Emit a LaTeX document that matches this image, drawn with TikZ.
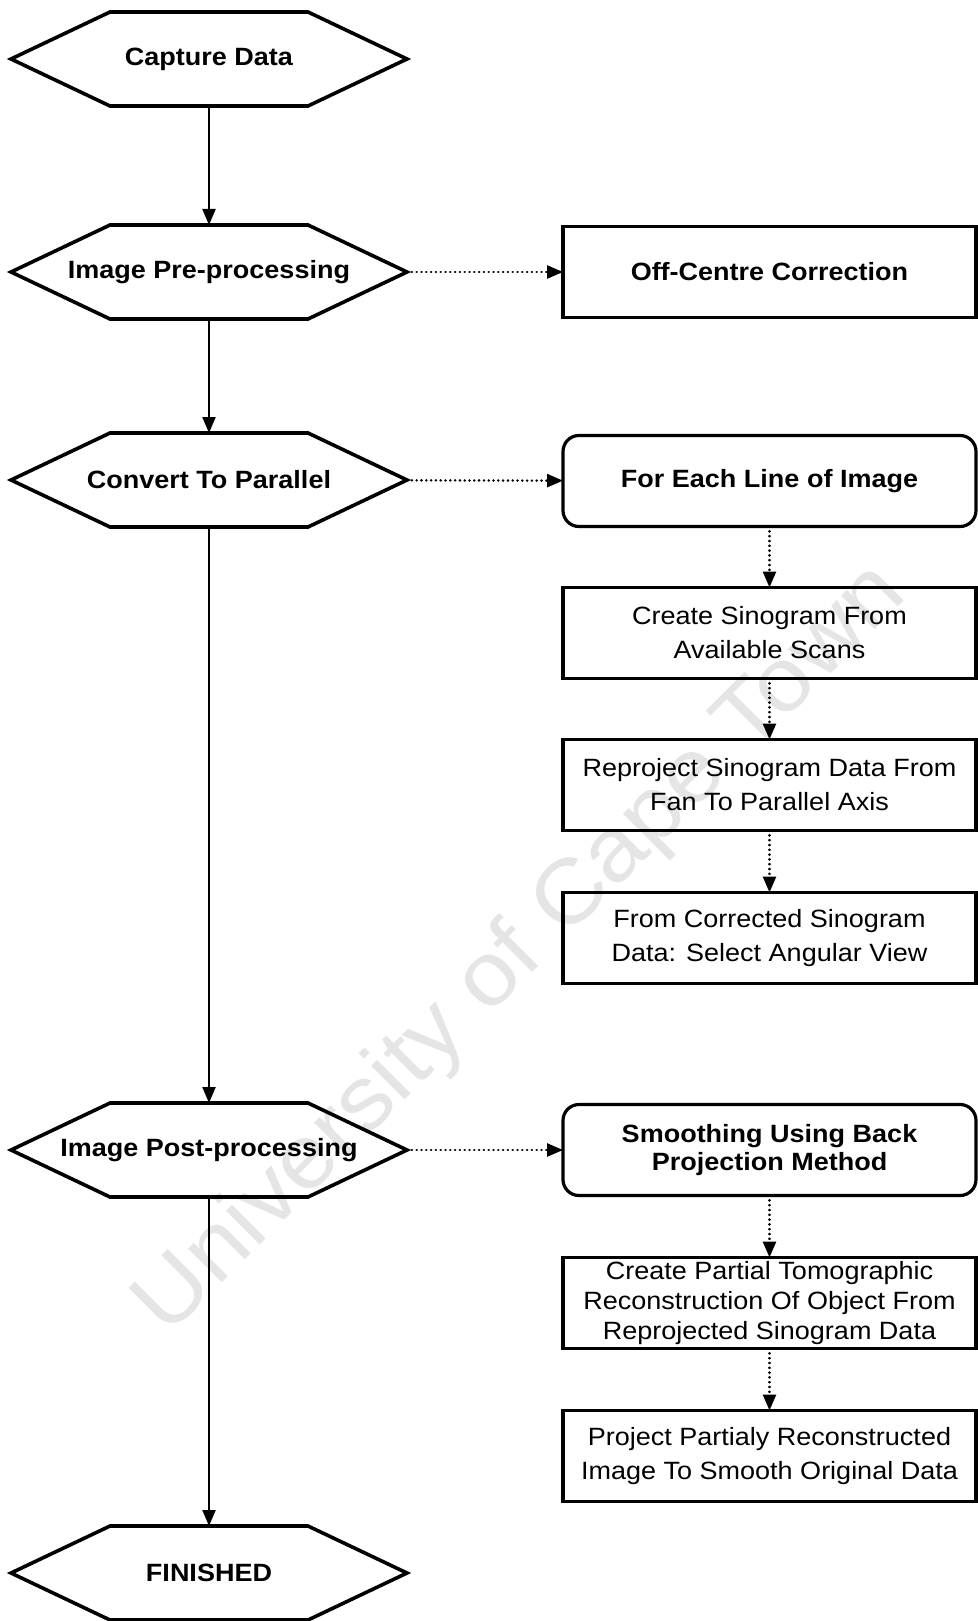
\documentclass[tikz,border=0pt]{standalone}
\usepackage{fontspec}
\setmainfont{Liberation Sans}[FakeStretch=1.08]
\usetikzlibrary{arrows.meta}

\tikzset{
  hexa/.style={minimum width=198pt, minimum height=47pt, inner sep=0pt, outer sep=0pt,
    font=\fontsize{12.5}{14}\selectfont\bfseries},
  hexline/.style={line width=1.8pt, line join=miter},
  sqbox/.style={draw, line width=1.6pt, minimum width=206.5pt, minimum height=45.5pt,
    inner sep=0pt, outer sep=0pt, align=center, font=\fontsize{12.5}{17}\selectfont},
  rndbox/.style={sqbox, rounded corners=8pt, font=\fontsize{12.5}{14}\selectfont\bfseries},
  flow/.style={line width=1.1pt, -{Triangle[length=8pt, width=6.5pt]}},
  dotflow/.style={flow, line width=1.3pt, line cap=round, dash pattern=on 0.1pt off 2.3pt}
}

\begin{document}
\begin{tikzpicture}[x=0.5pt, y=-0.5pt]
\useasboundingbox (0,0) rectangle (978,1621);
% watermark
\node[rotate=45, text=black!10, font=\fontsize{45}{45}\selectfont] (mark) at (522,950)
  {University of Cape Town};
% main column
\node[hexa] (cap)  at (209,59)   {Capture Data};
\node[hexa] (pre)  at (209,272)  {Image Pre-processing};
\node[hexa] (conv) at (209,480)  {Convert To Parallel};
\node[hexa] (post) at (209,1150) {Image Post-processing};
\node[hexa] (fin)  at (209,1573) {FINISHED};
\foreach \n in {cap,pre,conv,post,fin}
  \draw[hexline] (\n.west) -- ([xshift=49.5pt]\n.north west)
    -- ([xshift=-49.5pt]\n.north east) -- (\n.east)
    -- ([xshift=-49.5pt]\n.south east) -- ([xshift=49.5pt]\n.south west) -- cycle;
% right column
\node[sqbox, font=\fontsize{12.5}{14}\selectfont\bfseries] (off) at (769.5,272) {Off-Centre Correction};
\node[rndbox] (line) at (769.5,481) {For Each Line of Image};
\node[sqbox] (sino) at (769.5,633) {Create Sinogram From\\Available Scans};
\node[sqbox] (repr) at (769.5,785) {Reproject Sinogram Data From\\Fan To Parallel Axis};
\node[sqbox] (view) at (769.5,938) {From Corrected Sinogram\\Data: Select Angular View};
\node[rndbox] (smooth) at (769.5,1150) {Smoothing Using Back\\Projection Method};
\node[sqbox, font=\fontsize{12.5}{15}\selectfont] (part) at (769.5,1303)
  {Create Partial Tomographic\\Reconstruction Of Object From\\Reprojected Sinogram Data};
\node[sqbox] (proj) at (769.5,1456) {Project Partialy Reconstructed\\Image To Smooth Original Data};
% connectors
\draw[flow] (cap) -- (pre);
\draw[flow] (pre) -- (conv);
\draw[flow] (conv) -- (post);
\draw[flow] (post) -- (fin);
\draw[dotflow] (pre) -- (off);
\draw[dotflow] (conv) -- (line);
\draw[dotflow] (post) -- (smooth);
\draw[dotflow] (line) -- (sino);
\draw[dotflow] (sino) -- (repr);
\draw[dotflow] (repr) -- (view);
\draw[dotflow] (smooth) -- (part);
\draw[dotflow] (part) -- (proj);
\end{tikzpicture}
\end{document}
